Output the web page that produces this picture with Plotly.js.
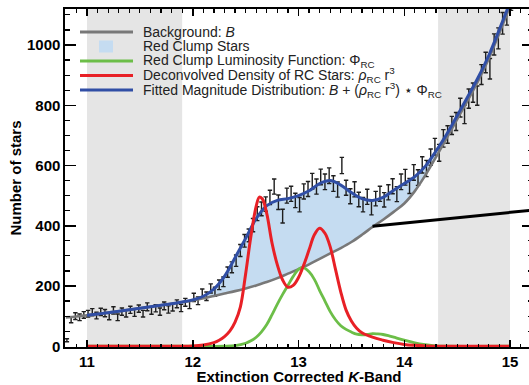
<!DOCTYPE html>
<html>
<head>
<meta charset="utf-8">
<script src="https://cdn.plot.ly/plotly-3.0.1.min.js"></script>
<style>
html,body{margin:0;padding:0;overflow:hidden;background:#fff;}
#chart{width:535px;height:385px;}
</style>
</head>
<body>
<div id="chart"></div>
<script>
// ---------- data ----------
// Background B on a 0.1 mag grid
const bgMag = [10.8,10.9,11.0,11.1,11.2,11.3,11.4,11.5,11.6,11.7,11.8,11.9,12.0,12.1,12.2,12.3,12.4,12.5,12.6,12.7,12.8,12.9,13.0,13.1,13.2,13.3,13.4,13.5,13.6,13.7,13.8,13.9,14.0,14.1,14.2,14.3,14.4,14.5,14.6,14.7,14.8,14.9,15.0,15.1,15.2];
const bgCounts = [96,99,103,107,111,116,121,126,131,136,141,146,152,159,167,175,183,192,202,213,226,241,256,272,290,308,326,346,370,396,420,446,474,515,568,628,690,753,816,882,955,1040,1130,1230,1340];

// Fitted magnitude distribution B + (rho r^3) * Phi
const fitMag = [11.0,11.1,11.2,11.3,11.4,11.5,11.6,11.7,11.8,11.9,12.0,12.1,12.2,12.3,12.4,12.5,12.6,12.7,12.8,12.9,13.0,13.1,13.2,13.3,13.4,13.5,13.6,13.7,13.8,13.9,14.0,14.1,14.2,14.3,14.4,14.5,14.6,14.7,14.8,14.9,15.0,15.1];
const fitCounts = [103,107,111,116,121,126,131,136,141,147,154,166,190,232,294,358,424,467,484,490,500,516,540,550,535,510,490,484,494,518,540,563,598,648,703,765,828,893,966,1052,1142,1242];

// Red clump luminosity function Phi_RC
const lfMag = [11.0,12.0,12.3,12.4,12.5,12.55,12.6,12.65,12.7,12.75,12.8,12.85,12.9,12.95,13.0,13.04,13.1,13.15,13.2,13.25,13.3,13.35,13.4,13.45,13.5,13.55,13.6,13.65,13.7,13.75,13.8,13.85,13.9,14.0,14.1,14.2,14.3,14.4,15.0];
const lfValues = [0,0,0,2,10,18,30,48,72,105,140,172,202,232,255,262,247,222,185,150,115,88,68,56,47,40,38,39,42,41,39,35,30,20,11,5,1,0,0];

// Deconvolved density of RC stars rho_RC r^3
const rhoMag = [11.0,11.5,12.0,12.1,12.2,12.25,12.3,12.35,12.4,12.45,12.5,12.55,12.6,12.63,12.66,12.7,12.75,12.8,12.85,12.9,12.95,13.0,13.05,13.1,13.15,13.2,13.25,13.3,13.35,13.4,13.45,13.5,13.55,13.6,13.7,13.8,13.9,14.0,14.1,14.2,14.4,15.0];
const rhoValues = [0,0,1,4,12,20,32,50,80,130,240,365,465,495,488,440,342,270,220,196,202,228,270,320,370,392,375,330,255,180,120,84,60,45,30,20,12,6,3,1,0,0];

// Observed star counts per bin with error bars
const starMag = [10.81,10.85,10.89,10.93,10.97,11.01,11.05,11.09,11.13,11.17,11.21,11.25,11.29,11.33,11.37,11.41,11.45,11.49,11.53,11.57,11.61,11.65,11.69,11.73,11.77,11.81,11.85,11.89,11.93,11.97,12.01,12.05,12.09,12.13,12.17,12.21,12.25,12.29,12.33,12.37,12.41,12.45,12.49,12.53,12.57,12.61,12.65,12.69,12.73,12.77,12.81,12.85,12.89,12.93,12.97,13.01,13.05,13.09,13.13,13.17,13.21,13.25,13.29,13.33,13.37,13.41,13.45,13.49,13.53,13.57,13.61,13.65,13.69,13.73,13.77,13.81,13.85,13.89,13.93,13.97,14.01,14.05,14.09,14.13,14.17,14.21,14.25,14.29,14.33,14.37,14.41,14.45,14.49,14.53,14.57,14.61,14.65,14.69,14.73,14.77,14.81,14.85,14.89,14.93,14.97,15.01,15.05,15.09,15.13,15.17];
const starCounts = [20,88,100,96,104,108,113,102,114,110,99,119,96,115,109,121,111,125,108,131,118,126,115,134,122,129,141,127,146,138,162,151,176,166,192,181,204,214,246,262,284,318,350,368,402,440,456,472,494,530,478,432,500,506,484,470,514,522,548,530,562,546,566,540,520,600,526,498,521,487,470,496,460,490,506,486,511,531,505,546,561,532,577,560,602,590,628,662,642,690,703,733,746,792,770,822,842,832,902,942,921,1002,1022,1072,1103,1152,1204,1240,1290,1340];
const starErrors = [5,10,11,11,11,11,12,11,12,12,11,12,11,12,12,12,12,12,11,13,12,12,12,13,12,12,13,12,13,13,14,13,14,14,15,15,16,16,17,18,19,20,21,21,22,23,23,24,24,25,24,23,25,25,24,24,25,25,26,25,26,26,26,26,25,27,25,25,25,24,24,25,24,24,25,24,25,25,25,26,26,25,26,26,27,27,27,28,28,29,29,30,30,31,31,32,32,32,33,34,34,35,35,36,37,37,38,39,40,40];

// Tick labels
const xTickVals = [11,12,13,14,15];
const xTickText = ['11','12','13','14','15'];
const yTickVals = [0,200,400,600,800,1000];
const yTickText = ['0','200','400','600','800','1000'];

// Legend entries
const legendTexts = [
  'Background: <i>B</i>',
  'Red Clump Stars',
  'Red Clump Luminosity Function: Φ<sub>RC</sub>',
  'Deconvolved Density of RC Stars: <i>ρ</i><sub>RC</sub> r<sup>3</sup>',
  'Fitted Magnitude Distribution: <i>B</i> + (<i>ρ</i><sub>RC</sub> r<sup>3</sup>) ⋆ Φ<sub>RC</sub>'
];

// ---------- styles ----------
const FONT = '"Liberation Sans", Arial, Helvetica, sans-serif';
const GRAY = 'rgb(120,120,120)';
const GREEN = 'rgb(108,190,72)';
const RED = 'rgb(232,32,38)';
const BLUE = 'rgb(48,78,165)';
const FILL = 'rgb(197,220,241)';
const BAND = 'rgb(229,229,229)';

const W = 535, H = 385;
const M = {l:65, r:2, t:9, b:38};
const pw = W - M.l - M.r, ph = H - M.t - M.b;
const xp = px => (px - M.l) / pw;
const yp = py => (H - M.b - py) / ph;

const traces = [
  // invisible base for the fill
  {x: bgMag.slice(2), y: bgCounts.slice(2), mode:'lines', line:{width:0, shape:'spline', smoothing:1}, hoverinfo:'skip'},
  {x: fitMag, y: fitCounts, mode:'lines', fill:'tonexty', fillcolor: FILL, line:{width:0, shape:'spline', smoothing:1}, hoverinfo:'skip'},
  // data points
  {x: starMag, y: starCounts, mode:'markers', marker:{size:2, color:'rgba(0,0,0,0)'},
   error_y:{type:'data', array: starErrors, visible:true, color:'#1e1e1e', thickness:1.4, width:2.2}},
  {x: bgMag, y: bgCounts, mode:'lines', line:{color:GRAY, width:2.6, shape:'spline', smoothing:1}},
  {x: lfMag, y: lfValues, mode:'lines', line:{color:GREEN, width:2.8, shape:'spline', smoothing:1}},
  {x: fitMag, y: fitCounts, mode:'lines', line:{color:BLUE, width:3, shape:'spline', smoothing:1}},
  {x: rhoMag, y: rhoValues, mode:'lines', line:{color:RED, width:3, shape:'spline', smoothing:1}}
];

const shapes = [
  {type:'rect', xref:'x', yref:'paper', x0:11.0, x1:11.9, y0:0, y1:1, fillcolor:BAND, line:{width:0}, layer:'below'},
  {type:'rect', xref:'x', yref:'paper', x0:14.32, x1:15.0, y0:0, y1:1, fillcolor:BAND, line:{width:0}, layer:'below'},
  {type:'line', xref:'x', yref:'y', x0:13.70, y0:398, x1:15.2175, y1:452, line:{color:'black', width:3}}
];
const rowY = [32, 46.5, 61, 75.5, 90];
const legendKinds = [GRAY, null, GREEN, RED, BLUE];
const annotations = [];
legendTexts.forEach((t, i) => {
  if (legendKinds[i]) {
    shapes.push({type:'line', xref:'paper', yref:'paper', x0:xp(80), x1:xp(133), y0:yp(rowY[i]), y1:yp(rowY[i]), line:{color:legendKinds[i], width:3}});
  } else {
    shapes.push({type:'rect', xref:'paper', yref:'paper', x0:xp(99), x1:xp(113), y0:yp(rowY[i]+6), y1:yp(rowY[i]-6), fillcolor:FILL, line:{width:0}});
  }
  annotations.push({xref:'paper', yref:'paper', x:xp(141), y:yp(rowY[i]), xanchor:'left', yanchor:'middle', showarrow:false, text:t, font:{family:FONT, size:14, color:'#222'}});
});

const axisCommon = {
  showline:true, linecolor:'black', linewidth:1.6, mirror:'allticks',
  ticks:'inside', tickcolor:'black', tickwidth:1.5,
  showgrid:false, zeroline:false,
  tickfont:{family:FONT, size:15, weight:'bold', color:'black'}
};

const layout = {
  width:W, height:H, margin:M, autosize:false,
  paper_bgcolor:'white', plot_bgcolor:'white', showlegend:false,
  font:{family:FONT, color:'black'},
  xaxis: Object.assign({}, axisCommon, {
    range:[10.792, 15.2175], tickmode:'array', tickvals:xTickVals, ticktext:xTickText, ticklen:7,
    minor:{tick0:11, dtick:0.1, ticks:'inside', ticklen:3.5, tickwidth:1.2, tickcolor:'black', showgrid:false},
    title:{text:'Extinction Corrected <i>K</i>-Band', font:{family:FONT, size:15, weight:'bold', color:'black'}, standoff:2}
  }),
  yaxis: Object.assign({}, axisCommon, {
    range:[-2.5, 1119.5], tickmode:'array', tickvals:yTickVals, ticktext:yTickText, ticklen:11,
    minor:{tick0:0, dtick:50, ticks:'inside', ticklen:5, tickwidth:1.2, tickcolor:'black', showgrid:false},
    title:{text:'Number of stars', font:{family:FONT, size:15, weight:'bold', color:'black'}, standoff:2}
  }),
  shapes, annotations
};

Plotly.newPlot('chart', traces, layout, {displayModeBar:false, staticPlot:true});
</script>
</body>
</html>
